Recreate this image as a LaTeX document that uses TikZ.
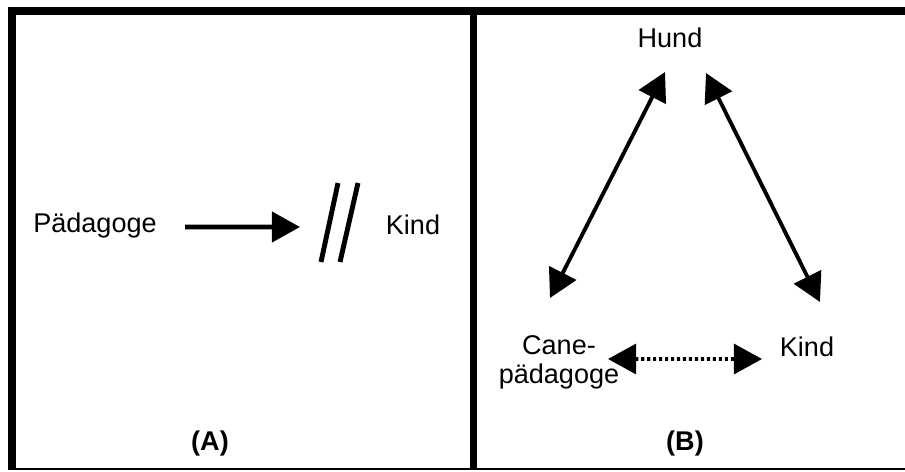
\documentclass[tikz,border=0pt]{standalone}
\usepackage{fontspec}
\setmainfont{Liberation Sans}
\usetikzlibrary{arrows.meta,calc}
\begin{document}
\begin{tikzpicture}[scale=0.2,
  arr/.style={line width=2.8pt,-{Triangle[length=16pt,width=17pt]}},
  dblarr/.style={line width=2.2pt,{Triangle[length=16pt,width=17pt]}-{Triangle[length=16pt,width=17pt]}},
  dotarr/.style={dblarr,dash pattern=on 1.8pt off 1.6pt},
  slash/.style={line width=2.8pt},
  frame/.style={line width=4.5pt}]
\tikzstyle{every node}+=[inner sep=0pt,font=\fontsize{15.4}{16.5}\selectfont]
\useasboundingbox (0,0) rectangle (90.5,-47.1);
% frame
\draw [frame] (0.8,-1.1) -- (90.5,-1.1);
\draw [frame] (1.2,-0.7) -- (1.2,-46.9);
\draw [frame,line width=4pt] (47.35,-0.7) -- (47.35,-46.9);
\draw [line width=0.8pt] (0.8,-46.9) -- (90.5,-46.9);
% (A)
\node (paed) at (9.5,-22.5) {Pädagoge};
\node (kindA) at (41.3,-22.5) {Kind};
\node (labA) at (21,-44.3) {\textbf{(A)}};
\coordinate (stop) at (30,-22.7);
\draw [arr] ($(paed)+(9,-0.2)$) -- (stop);
\draw [slash] (33.8,-18.3) -- (32.1,-26.2);
\draw [slash] (35.8,-18.3) -- (34.0,-26.2);
% (B)
\node (hund) at (67,-3.8) {Hund};
\node (cane) [align=center] at (55.9,-36.2) {Cane-\\pädagoge};
\node (kindB) at (80.7,-34.7) {Kind};
\node (labB) at (68.5,-44.3) {\textbf{(B)}};
\draw [dblarr] ($(cane)+(-0.9,6.4)$) -- ($(hund)+(-0.5,-3.4)$);
\draw [dblarr] ($(hund)+(3.6,-3.5)$) -- ($(kindB)+(1.3,4.5)$);
\draw [dotarr] ($(cane)+(4.9,0.3)$) -- ($(kindB)+(-4.5,-1.2)$);
\end{tikzpicture}
\end{document}
